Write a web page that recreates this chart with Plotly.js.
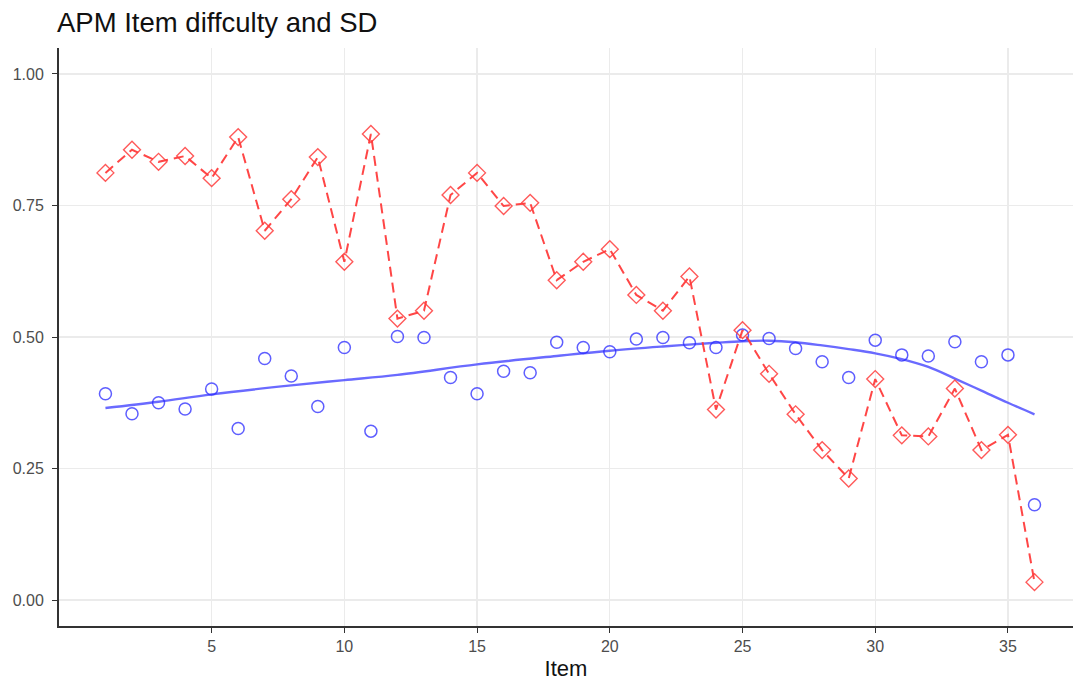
<!DOCTYPE html>
<html>
<head>
<meta charset="utf-8">
<script src="https://cdn.plot.ly/plotly-3.0.1.min.js"></script>
<style>html,body{margin:0;padding:0;background:#fff;}#chart{width:1073px;height:684px;}</style>
</head>
<body>
<div id="chart"></div>
<script>
const items = [1,2,3,4,5,6,7,8,9,10,11,12,13,14,15,16,17,18,19,20,21,22,23,24,25,26,27,28,29,30,31,32,33,34,35,36];
const difficulty = [0.812,0.856,0.833,0.844,0.802,0.880,0.702,0.762,0.842,0.643,0.886,0.535,0.550,0.770,0.812,0.749,0.755,0.608,0.643,0.667,0.580,0.550,0.615,0.362,0.513,0.430,0.353,0.285,0.231,0.420,0.313,0.311,0.402,0.285,0.314,0.034];
const sd = [0.392,0.354,0.375,0.363,0.401,0.326,0.459,0.426,0.368,0.480,0.321,0.501,0.499,0.423,0.392,0.435,0.432,0.490,0.480,0.472,0.496,0.499,0.489,0.480,0.504,0.497,0.478,0.453,0.423,0.494,0.466,0.464,0.491,0.453,0.466,0.181];
const smoothX = [1,3,5,8,10,12,15,18,20,22,24,25,26,27,28,29,30,31,32,33,34,35,36];
const smoothY = [0.365,0.377,0.391,0.408,0.418,0.428,0.448,0.464,0.474,0.482,0.489,0.492,0.493,0.490,0.484,0.477,0.469,0.458,0.443,0.421,0.398,0.375,0.353];
const xTicks = [5,10,15,20,25,30,35];
const yTicks = [0,0.25,0.5,0.75,1];
const yTickText = ['0.00','0.25','0.50','0.75','1.00'];

const traces = [
  {x: smoothX, y: smoothY, mode:'lines', type:'scatter', line:{color:'rgba(80,80,255,0.85)', width:2.4, shape:'spline', smoothing:1}, hoverinfo:'skip'},
  {x: items, y: sd, mode:'markers', type:'scatter', marker:{symbol:'circle-open', size:12, color:'rgba(40,40,255,0.75)', line:{width:1.5}}},
  {x: items, y: difficulty, mode:'lines+markers', type:'scatter', line:{color:'rgba(255,50,50,0.9)', width:2, dash:'10px,6px'}, marker:{symbol:'diamond-open', size:13, color:'rgba(255,60,60,0.85)', line:{width:1.4}}}
];

const layout = {
  width:1073, height:684,
  margin:{l:59, r:0, t:48, b:58},
  paper_bgcolor:'#fff', plot_bgcolor:'#fff',
  showlegend:false,
  font:{family:'Liberation Sans, Arial, sans-serif'},
  title:{text:'APM Item diffculty and SD', x:57/1073, xanchor:'left', y:1-22/684, yanchor:'middle', font:{size:27.5, color:'#111'}},
  xaxis:{range:[-0.75,37.45], tickvals:xTicks, ticktext:xTicks.map(String), showgrid:true, gridcolor:'#ebebeb', gridwidth:1.2, zeroline:false,
    showline:true, linecolor:'#333', linewidth:2, ticks:'outside', ticklen:5, tickcolor:'#333', tickfont:{size:16, color:'#4d4d4d'},
    title:{text:'Item', font:{size:22, color:'#111'}, standoff:6}},
  yaxis:{range:[-0.0494,1.0494], tickvals:yTicks, ticktext:yTickText, showgrid:true, gridcolor:'#ebebeb', gridwidth:1.2, zeroline:false,
    showline:true, linecolor:'#333', linewidth:2, ticks:'outside', ticklen:5, tickcolor:'#333', ticklabelstandoff:5, tickfont:{size:16, color:'#4d4d4d'}}
};
Plotly.newPlot('chart', traces, layout, {displayModeBar:false, staticPlot:true});
</script>
</body>
</html>
